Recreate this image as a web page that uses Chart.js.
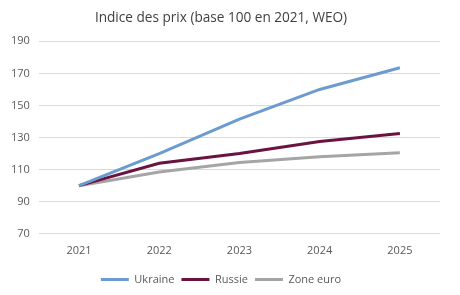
<!DOCTYPE html>
<html>
<head>
<meta charset="utf-8">
<script src="https://cdn.jsdelivr.net/npm/chart.js@4/dist/chart.umd.min.js"></script>
<style>
html,body{margin:0;padding:0;background:#fff;}
#wrap{width:460px;height:295px;}
</style>
</head>
<body>
<div id="wrap"><canvas id="c" width="460" height="295"></canvas></div>
<script>
const categories = ['2021','2022','2023','2024','2025'];
const ukraine = [100, 120, 141.5, 160, 173.5];
const russie = [100, 114, 120, 127.5, 132.5];
const zoneEuro = [100, 108.5, 114.5, 118, 120.5];
const yTicks = [70, 90, 110, 130, 150, 170, 190];

const font = "'Open Sans', 'Liberation Sans', sans-serif";
new Chart(document.getElementById('c'), {
  type: 'line',
  data: {
    labels: categories,
    datasets: [
      {label:'Ukraine', data: ukraine, borderColor:'#6C9BCF', backgroundColor:'#6C9BCF', borderWidth:3, pointRadius:0, tension:0},
      {label:'Russie', data: russie, borderColor:'#6B1340', backgroundColor:'#6B1340', borderWidth:3, pointRadius:0, tension:0},
      {label:'Zone euro', data: zoneEuro, borderColor:'#A5A5A5', backgroundColor:'#A5A5A5', borderWidth:3, pointRadius:0, tension:0}
    ]
  },
  options: {
    responsive:false,
    animation:false,
    layout:{padding:{left:2,right:20,top:8,bottom:0}},
    plugins:{
      title:{display:true,text:'Indice des prix (base 100 en 2021, WEO)',color:'#404040',font:{family:font,size:13.6,weight:'normal'},padding:{top:2,bottom:15}},
      legend:{position:'bottom',labels:{color:'#595959',font:{family:font,size:11},usePointStyle:true,pointStyle:'line',pointStyleWidth:28,boxHeight:3,padding:7}},
      tooltip:{enabled:false}
    },
    scales:{
      x:{offset:true,grid:{display:false,drawTicks:false},border:{display:false},ticks:{color:'#595959',font:{family:font,size:11},padding:10}},
      y:{min:70,max:190,afterBuildTicks:(ax)=>{ax.ticks=yTicks.map(v=>({value:v}));},grid:{color:'#D9D9D9',lineWidth:1,drawTicks:false},border:{display:false},ticks:{color:'#595959',font:{family:font,size:11},padding:9}}
    }
  }
});
</script>
</body>
</html>
